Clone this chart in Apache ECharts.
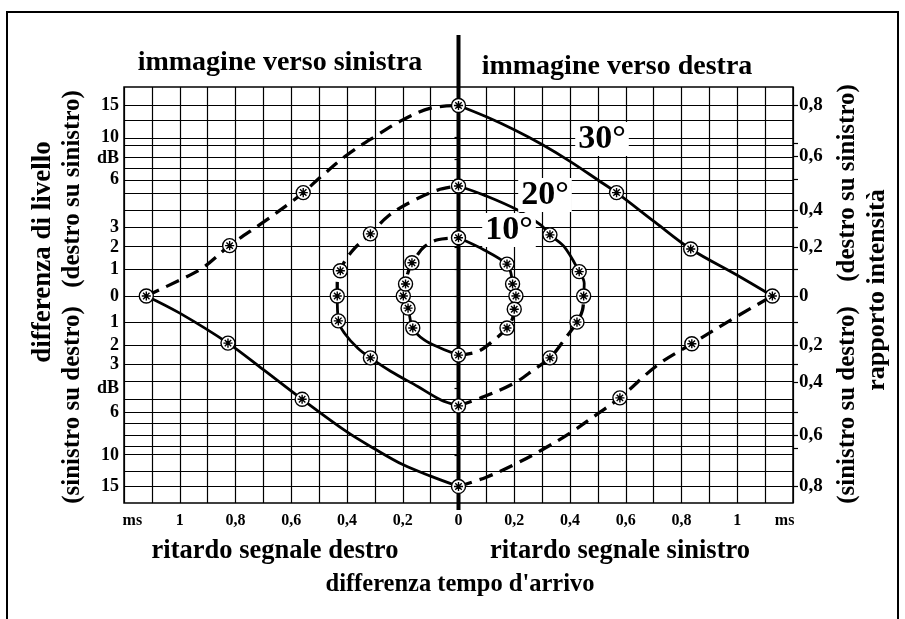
<!DOCTYPE html>
<html>
<head>
<meta charset="utf-8">
<script src="https://cdn.jsdelivr.net/npm/echarts@6/dist/echarts.min.js"></script>
<style>
  html, body { margin: 0; padding: 0; background: #fff; }
  #chart { width: 905px; height: 619px; }
</style>
</head>
<body>
<div id="chart"></div>
<script>
// Printed level scale: graduation levels (dB) and their relative spacing on the axis
const levelDb      = [0, 1, 2, 3, 4, 5, 6, 7, 8, 9, 10, 12, 15];
const levelSpacing = [0, 0.139, 0.257, 0.360, 0.451, 0.535, 0.612, 0.672, 0.732, 0.793, 0.835, 0.919, 1.0];

// Left axis labels (signed dB: + destro su sinistro, - sinistro su destro)
const leftLabelDb   = [15, 10, 7.8, 6, 3, 2, 1, 0, -1, -2, -3, -4.4, -6, -10, -15];
const leftLabelText = ['15', '10', 'dB', '6', '3', '2', '1', '0', '1', '2', '3', 'dB', '6', '10', '15'];

// Right axis: intensity ratio labels and ticks, placed at their dB equivalents
const ratioLabelDb   = [15, 8, 4, 2, 0, -2, -4, -8, -15];
const ratioLabelText = ['0,8', '0,6', '0,4', '0,2', '0', '0,2', '0,4', '0,6', '0,8'];
const ratioTickDb    = [15, 9.2, 8, 6, 4, 3, 2, 1, 0, -1, -2, -3, -4, -6, -8, -9.2, -15];

// Time axis labels (ms; negative = ritardo segnale destro)
const timeLabelMs   = [-1.17, -1, -0.8, -0.6, -0.4, -0.2, 0, 0.2, 0.4, 0.6, 0.8, 1, 1.17];
const timeLabelText = ['ms', '1', '0,8', '0,6', '0,4', '0,2', '0', '0,2', '0,4', '0,6', '0,8', '1', 'ms'];

// 30° curve traces [ms, dB]
const trace30UL = [[-1.12, 0], [-1.0, 0.6], [-0.92, 1.05], [-0.821, 2.07], [-0.7, 3.3], [-0.6, 4.5], [-0.557, 5.1], [-0.493, 6.24], [-0.4, 8.13], [-0.3, 10.04], [-0.2, 12.2], [-0.1, 14.5], [0, 15]];
const trace30UR = [[0, 15], [0.1, 12.8], [0.2, 10.9], [0.3, 9.05], [0.4, 7.58], [0.5, 5.96], [0.567, 5.1], [0.705, 3.3], [0.833, 1.91], [1.0, 0.78], [1.126, 0]];
const trace30LR = [[0, -15], [0.1, -13.2], [0.2, -11.2], [0.3, -9.35], [0.4, -7.8], [0.5, -6.1], [0.579, -5.0], [0.714, -3.03], [0.837, -1.95], [0.988, -0.84], [1.126, 0]];
const trace30LL = [[-1.12, 0], [-1.0, -0.65], [-0.827, -1.92], [-0.7, -3.3], [-0.561, -5.1], [-0.4, -7.7], [-0.3, -9.25], [-0.2, -11.2], [-0.1, -13.0], [0, -15]];
const marks30 = [[0, 15], [0.567, 5.1], [0.833, 1.91], [1.126, 0], [0.837, -1.95], [0.579, -5.0], [0, -15], [-0.561, -5.1], [-0.827, -1.92], [-1.12, 0], [-0.821, 2.07], [-0.557, 5.1]];

// 20° curve traces [ms, dB]
const trace20UL = [[-0.435, 0], [-0.435, 0.48], [-0.424, 0.95], [-0.409, 1.35], [-0.373, 1.94], [-0.316, 2.67], [-0.254, 3.63], [-0.17, 4.52], [-0.075, 5.27], [0, 5.55]];
const trace20UR = [[0, 5.55], [0.092, 4.93], [0.212, 4.0], [0.296, 3.13], [0.328, 2.62], [0.379, 2.02], [0.433, 0.92], [0.451, 0.48], [0.449, 0]];
const trace20LR = [[0, -5.55], [0.092, -4.92], [0.2, -4.08], [0.272, -3.28], [0.328, -2.66], [0.379, -1.78], [0.425, -0.99], [0.445, -0.53], [0.449, 0]];
const trace20LL = [[-0.435, 0], [-0.431, -0.94], [-0.409, -1.48], [-0.361, -2.17], [-0.316, -2.66], [-0.242, -3.4], [-0.146, -4.29], [-0.063, -5.14], [0, -5.55]];
const marks20 = [[0, 5.55], [0.328, 2.62], [0.433, 0.92], [0.449, 0], [0.425, -0.99], [0.328, -2.66], [0, -5.55], [-0.316, -2.66], [-0.431, -0.94], [-0.435, 0], [-0.424, 0.95], [-0.316, 2.67]];

// 10° curve traces [ms, dB]
const trace10UL = [[-0.198, 0], [-0.19, 0.45], [-0.182, 0.86], [-0.167, 1.30], [-0.152, 1.57], [-0.123, 2.01], [-0.075, 2.37], [0, 2.47]];
const trace10UR = [[0, 2.47], [0.092, 1.87], [0.174, 1.24], [0.188, 0.86], [0.194, 0.45], [0.206, 0]];
const trace10LR = [[0, -2.52], [0.069, -2.34], [0.128, -1.78], [0.174, -1.25], [0.194, -0.85], [0.2, -0.5], [0.206, 0]];
const trace10LL = [[-0.198, 0], [-0.181, -0.46], [-0.164, -1.25], [-0.123, -1.78], [-0.063, -2.17], [0, -2.52]];
const marks10 = [[0, 2.47], [0.174, 1.24], [0.194, 0.45], [0.206, 0], [0.2, -0.5], [0.174, -1.25], [0, -2.52], [-0.164, -1.25], [-0.181, -0.46], [-0.198, 0], [-0.19, 0.45], [-0.167, 1.30]];

// Signed dB -> position on the graduated level scale (piecewise linear between graduations)
function toUnits(db) {
  const a = Math.abs(db), s = db < 0 ? -1 : 1;
  for (let i = 1; i < levelDb.length; i++) {
    if (a <= levelDb[i]) {
      const t = (a - levelDb[i - 1]) / (levelDb[i] - levelDb[i - 1]);
      return s * (levelSpacing[i - 1] + t * (levelSpacing[i] - levelSpacing[i - 1]));
    }
  }
  const n = levelDb.length - 1;
  const slope = (levelSpacing[n] - levelSpacing[n - 1]) / (levelDb[n] - levelDb[n - 1]);
  return s * (levelSpacing[n] + (a - levelDb[n]) * slope);
}
const toPoint = ([ms, db]) => [ms, toUnits(db)];

function lookup(values, texts) {
  return function (v) {
    for (let i = 0; i < values.length; i++) if (Math.abs(values[i] - v) < 1e-6) return texts[i];
    return '';
  };
}

const SERIF = '"Liberation Serif", "Times New Roman", serif';
const Y_MIN = -1.087, Y_MAX = 1.097;

const leftLabelUnits = leftLabelDb.map(toUnits);
const ratioLabelUnits = ratioLabelDb.map(toUnits);
const ratioTickUnits = ratioTickDb.map(toUnits);

// Horizontal grid lines at every graduation, both halves
const gridLevels = [];
levelDb.forEach(d => { gridLevels.push(toUnits(d)); if (d > 0) gridLevels.push(toUnits(-d)); });

// Circled asterisk marker
const MARKER = 'path://M0,-10A10,10,0,1,1,0,10A10,10,0,1,1,0,-10ZM0,-6.5L0,6.5M-6.5,0L6.5,0M-4.6,-4.6L4.6,4.6M4.6,-4.6L-4.6,4.6';

const series = [];
series.push({
  type: 'line', data: [], silent: true, z: 1,
  markLine: {
    silent: true, symbol: ['none', 'none'], animation: false,
    label: { show: false },
    lineStyle: { type: 'solid', color: '#000', width: 1.2 },
    data: gridLevels.map(v => ({ yAxis: v }))
  }
});

const curves = [
  { segs: [trace30UL, trace30UR, trace30LR, trace30LL], marks: marks30 },
  { segs: [trace20UL, trace20UR, trace20LR, trace20LL], marks: marks20 },
  { segs: [trace10UL, trace10UR, trace10LR, trace10LL], marks: marks10 }
];
curves.forEach(c => {
  c.segs.forEach((seg, i) => {
    const dashed = (i === 0 || i === 2);
    series.push({
      type: 'line', data: seg.map(toPoint), showSymbol: false, symbol: 'none',
      smooth: 0.35, silent: true, z: 3, animation: false,
      lineStyle: { color: '#000', width: dashed ? 3.3 : 2.8, type: dashed ? [14, 8] : 'solid', cap: 'butt' }
    });
  });
  series.push({
    type: 'scatter', data: c.marks.map(toPoint), symbol: MARKER, symbolSize: 14,
    symbolKeepAspect: true, silent: true, z: 5, animation: false,
    itemStyle: { color: '#fff', borderColor: '#000', borderWidth: 1.4, opacity: 1 }
  });
});

const chart = echarts.init(document.getElementById('chart'), null, { renderer: 'canvas' });

function txt(text, x, y, size, rot, boxed) {
  const style = {
    text, font: 'bold ' + size + 'px ' + SERIF, fill: '#000',
    textAlign: 'center', textVerticalAlign: 'middle'
  };
  if (boxed) { style.backgroundColor = '#fff'; style.padding = [0, 3, 0, 3]; }
  return { type: 'text', x, y, rotation: rot || 0, z: 20, style };
}
const up = Math.PI / 2;

chart.setOption({
  animation: false,
  backgroundColor: '#fff',
  grid: { left: 124, top: 87, width: 669, height: 416, show: true, borderColor: '#000', borderWidth: 1.5, backgroundColor: 'transparent' },
  xAxis: {
    type: 'value', min: -1.2, max: 1.2, interval: 0.1,
    axisLine: { show: false }, axisTick: { show: false },
    splitLine: { show: true, lineStyle: { color: '#000', width: 1.2 } },
    axisLabel: {
      customValues: timeLabelMs, formatter: lookup(timeLabelMs, timeLabelText),
      fontFamily: SERIF, fontWeight: 'bold', fontSize: 16, color: '#000', margin: 10
    }
  },
  yAxis: [
    {
      type: 'value', min: Y_MIN, max: Y_MAX, position: 'left',
      axisLine: { show: false }, splitLine: { show: false },
      axisTick: { show: true, customValues: leftLabelUnits, length: 4, lineStyle: { color: '#000', width: 1.2 } },
      axisLabel: {
        customValues: leftLabelUnits, formatter: lookup(leftLabelUnits, leftLabelText),
        fontFamily: SERIF, fontWeight: 'bold', fontSize: 18, color: '#000', margin: 5
      }
    },
    {
      type: 'value', min: Y_MIN, max: Y_MAX, position: 'right',
      axisLine: { show: false }, splitLine: { show: false },
      axisTick: { show: true, customValues: ratioTickUnits, length: 5, lineStyle: { color: '#000', width: 1.2 } },
      axisLabel: {
        customValues: ratioLabelUnits, formatter: lookup(ratioLabelUnits, ratioLabelText),
        fontFamily: SERIF, fontWeight: 'bold', fontSize: 19, color: '#000', margin: 6
      }
    }
  ],
  series: series,
  graphic: [
    { type: 'rect', z: 0, shape: { x: 7, y: 12, width: 891, height: 700 }, style: { fill: 'none', stroke: '#000', lineWidth: 2 } },
    txt('immagine verso sinistra', 280, 63, 28),
    txt('immagine verso destra', 617, 67, 28),
    txt('ritardo segnale destro', 275, 551, 26.5),
    txt('ritardo segnale sinistro', 620, 551, 26.5),
    txt("differenza tempo d'arrivo", 460, 585, 24.5),
    txt('differenza di livello', 43, 252, 27, up),
    txt('(destro su sinistro)', 73, 189, 25, up),
    txt('(sinistro su destro)', 73, 405, 25, up),
    txt('(destro su sinistro)', 848, 183, 25, up),
    txt('(sinistro su destro)', 848, 405, 25, up),
    txt('rapporto intensità', 877, 290, 26, up),
    txt('30°', 602, 139, 34, 0, true),
    txt('20°', 545, 195, 34, 0, true),
    txt('10°', 509, 230, 34, 0, true)
  ]
});

// Thick zero-delay line, placed through the time axis scale
const x0 = chart.convertToPixel({ xAxisIndex: 0 }, 0);
chart.setOption({
  graphic: [
    { id: 'zeroLine', type: 'line', z: 4, shape: { x1: x0, y1: 35, x2: x0, y2: 510 }, style: { stroke: '#000', lineWidth: 4 } }
  ]
});
</script>
</body>
</html>
